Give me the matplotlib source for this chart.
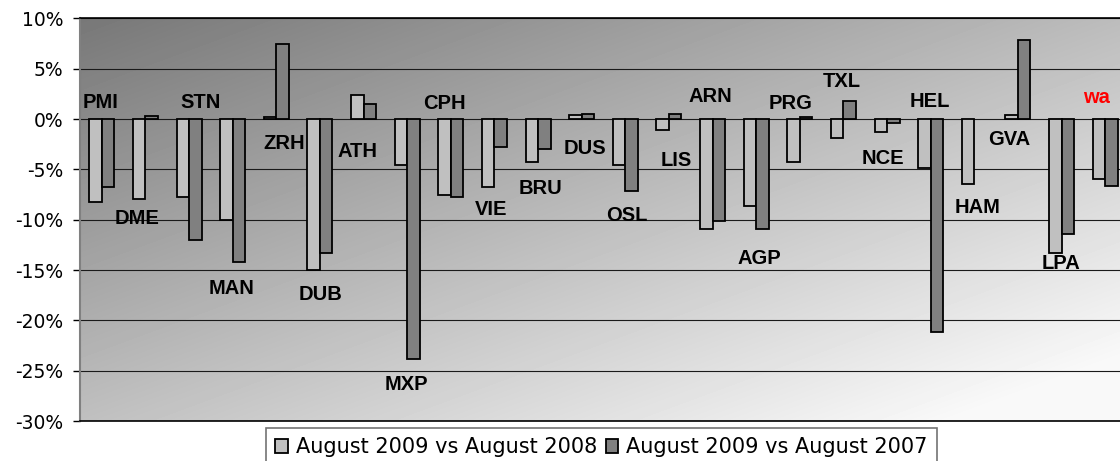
import numpy as np
import matplotlib.pyplot as plt
from matplotlib.ticker import MultipleLocator, FuncFormatter

airports = ['PMI', 'DME', 'STN', 'MAN', 'ZRH', 'DUB', 'ATH', 'MXP', 'CPH', 'VIE',
            'BRU', 'DUS', 'OSL', 'LIS', 'ARN', 'AGP', 'PRG', 'TXL', 'NCE', 'HEL',
            'HAM', 'GVA', 'LPA', 'wa']
vs_2008 = [-8.2, -7.9, -7.7, -10.0, 0.2, -15.0, 2.4, -4.6, -7.5, -6.7,
           -4.3, 0.4, -4.6, -1.1, -10.9, -8.6, -4.3, -1.9, -1.3, -4.9,
           -6.4, 0.4, -13.3, -6.0]
vs_2007 = [-6.7, 0.35, -12.0, -14.2, 7.5, -13.3, 1.5, -23.8, -7.7, -2.8,
           -3.0, 0.55, -7.1, 0.5, -10.1, -10.9, 0.2, 1.85, -0.4, -21.2,
           np.nan, 7.85, -11.4, -6.6]

# where the airport names were dragged to (category units, %)
label_x = [-0.03, 0.80, 2.26, 2.97, 4.17, 5.02, 5.86, 6.99, 7.86, 8.92,
           10.06, 11.07, 12.03, 13.16, 13.96, 15.08, 15.79, 16.97, 17.90, 18.98,
           20.07, 20.81, 21.98, 22.81]
label_y = [1.7, -9.9, 1.7, -16.8, -2.4, -17.4, -3.2, -26.4, 1.6, -9.0,
           -6.9, -2.9, -9.6, -4.1, 2.2, -13.9, 1.6, 3.7, -3.9, 1.8,
           -8.8, -2.0, -14.3, 2.1]

fig = plt.figure(figsize=(11.2, 4.61), dpi=100)
ax = fig.add_axes([80 / 1120, 1 - 421 / 461, 1047 / 1120, 402.5 / 461])

x = np.arange(len(airports))
w = 0.286

# diagonal grey gradient background, dark top-left -> light bottom-right
u = np.linspace(0, 1, 300)
v = np.linspace(0, 1, 120)
U, V = np.meshgrid(u, v)
grad = np.clip(0.47 + 0.27 * U + 0.28 * V, 0, 0.975)
ax.imshow(grad, cmap='gray', vmin=0, vmax=1, extent=(-0.5, 23.5, -30, 10),
          origin='upper', aspect='auto', zorder=0, interpolation='bilinear')

ax.bar(x - w / 2, vs_2008, w, color='#c0c0c0', edgecolor='black', linewidth=1.3,
       label='August 2009 vs August 2008', zorder=2)
ax.bar(x + w / 2, vs_2007, w, color='#808080', edgecolor='black', linewidth=1.3,
       label='August 2009 vs August 2007', zorder=2)

for i, name in enumerate(airports):
    ax.text(label_x[i], label_y[i], name, ha='center', va='center',
            fontsize=14.5, fontweight='bold', family='Liberation Sans',
            color='red' if name == 'wa' else 'black', zorder=3)

ax.set_xlim(-0.5, 23.5)
ax.set_ylim(-30, 10)
ax.yaxis.set_major_locator(MultipleLocator(5))
ax.yaxis.set_major_formatter(FuncFormatter(lambda val, pos: '%d%%' % val))
ax.set_xticks([])
ax.tick_params(axis='y', labelsize=13.5, length=5, width=1, pad=7, colors='black')

ax.set_axisbelow(True)
ax.grid(True, axis='y', color='#1a1a1a', linewidth=0.8)
ax.spines['right'].set_visible(False)
ax.spines['left'].set_color('#808080')
ax.spines['left'].set_linewidth(1.5)
ax.spines['top'].set_linewidth(1.2)
ax.spines['bottom'].set_linewidth(1.2)

leg = fig.legend(loc='upper center', bbox_to_anchor=(0.537, 1 - 428 / 461), ncol=2,
                 fontsize=15, frameon=True, fancybox=False, edgecolor='#505050',
                 handlelength=0.6, handleheight=0.6, handletextpad=0.4,
                 columnspacing=0.4, borderpad=0.45, borderaxespad=0)
leg.get_frame().set_linewidth(1.2)

fig.savefig('out.png', dpi=100)
